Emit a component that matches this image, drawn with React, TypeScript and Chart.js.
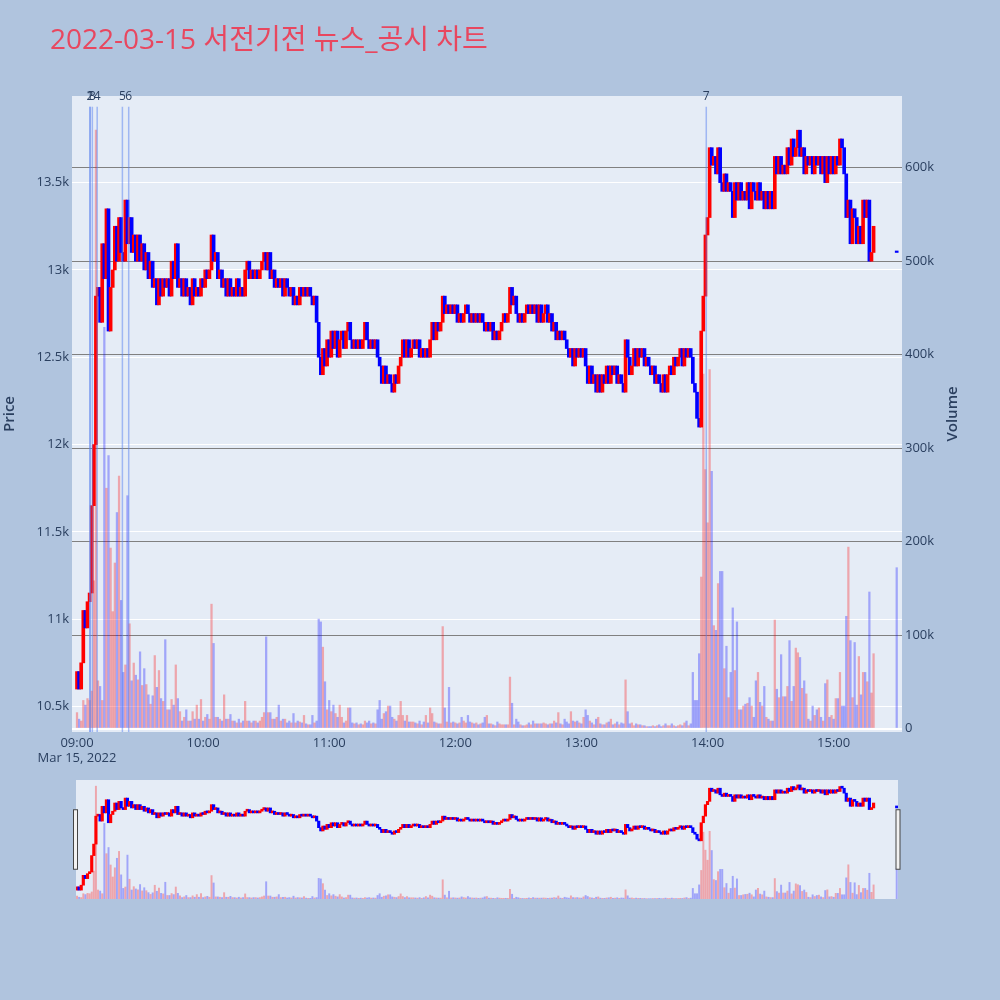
import React, { useEffect, useRef } from "react";
import { Chart, registerables } from "chart.js";

Chart.register(...registerables);

const TITLE = "2022-03-15 서전기전 뉴스_공시 차트";
const DATE_LABEL = "Mar 15, 2022";

// 1-minute candles from 09:00 (minute 0); each candle opens at the previous close
const firstOpen = 10600;
const closes = [
  10700, 10600, 10750, 11050, 10950, 11100, 11150, 11650, 12000, 12850,
  12900, 12700, 13150, 12950, 13350, 12650, 12900, 13000, 13250, 13050,
  13300, 13100, 13050, 13400, 13150, 13300, 13100, 13200, 13050, 13200,
  13050, 13150, 13000, 13100, 12950, 13050, 12900, 12950, 12800, 12950,
  12850, 12950, 12900, 12950, 12850, 13050, 12950, 13150, 12900, 12950,
  12850, 12950, 12850, 12900, 12800, 12950, 12850, 12900, 12850, 12950,
  12900, 13000, 12950, 13000, 13200, 13050, 13100, 12950, 13000, 12900,
  12950, 12850, 12950, 12850, 12900, 12850, 12950, 12850, 12900, 12850,
  13000, 13050, 12950, 13000, 12950, 13000, 12950, 13000, 13050, 13100,
  13000, 13100, 12950, 13000, 12900, 12950, 12900, 12950, 12850, 12950,
  12900, 12850, 12900, 12800, 12850, 12800, 12900, 12850, 12900, 12850,
  12900, 12850, 12800, 12850, 12700, 12500, 12400, 12550, 12450, 12600,
  12500, 12650, 12550, 12650, 12500, 12600, 12650, 12550, 12650, 12700,
  12600, 12550, 12600, 12550, 12600, 12550, 12600, 12700, 12600, 12550,
  12600, 12550, 12600, 12500, 12450, 12350, 12450, 12350, 12400, 12350,
  12300, 12400, 12350, 12450, 12500, 12600, 12500, 12600, 12500, 12550,
  12600, 12550, 12600, 12500, 12550, 12500, 12550, 12500, 12600, 12700,
  12600, 12700, 12650, 12700, 12850, 12750, 12800, 12750, 12800, 12750,
  12800, 12700, 12750, 12700, 12750, 12800, 12750, 12700, 12750, 12700,
  12750, 12700, 12750, 12700, 12650, 12700, 12650, 12700, 12600, 12650,
  12600, 12650, 12700, 12750, 12700, 12750, 12900, 12800, 12850, 12750,
  12700, 12750, 12700, 12750, 12800, 12750, 12800, 12750, 12800, 12700,
  12800, 12700, 12750, 12800, 12700, 12750, 12650, 12700, 12600, 12650,
  12600, 12650, 12600, 12550, 12500, 12550, 12450, 12550, 12500, 12550,
  12500, 12550, 12450, 12350, 12450, 12350, 12400, 12300, 12400, 12300,
  12400, 12350, 12450, 12350, 12450, 12400, 12450, 12350, 12400, 12350,
  12300, 12600, 12500, 12400, 12450, 12550, 12450, 12550, 12500, 12550,
  12450, 12500, 12450, 12400, 12450, 12350, 12400, 12350, 12300, 12400,
  12300, 12400, 12450, 12400, 12500, 12450, 12500, 12550, 12450, 12550,
  12500, 12550, 12500, 12350, 12300, 12150, 12100, 12650, 12850, 13200,
  13300, 13700, 13600, 13650, 13550, 13700, 13500, 13450, 13550, 13450,
  13500, 13450, 13300, 13500, 13400, 13500, 13400, 13450, 13400, 13500,
  13350, 13500, 13450, 13400, 13500, 13400, 13450, 13350, 13450, 13350,
  13450, 13350, 13650, 13550, 13650, 13550, 13600, 13550, 13700, 13600,
  13750, 13650, 13700, 13800, 13650, 13700, 13550, 13650, 13600, 13650,
  13550, 13650, 13600, 13650, 13550, 13650, 13500, 13650, 13550, 13650,
  13550, 13650, 13600, 13750, 13700, 13550, 13300, 13400, 13150, 13350,
  13300, 13150, 13250, 13150, 13400, 13300, 13400, 13050, 13100, 13250,
];

// volume per minute, in thousands of shares
const volumesK = [
  17, 10, 8, 30, 25, 32, 30, 40, 158, 640,
  51, 45, 30, 429, 257, 292, 193, 125, 177, 231,
  270, 137, 60, 68, 249, 112, 51, 70, 57, 52,
  82, 46, 64, 47, 36, 26, 35, 78, 44, 62,
  32, 29, 95, 20, 20, 31, 25, 68, 32, 18,
  8, 12, 20, 8, 8, 18, 10, 25, 10, 31,
  8, 12, 15, 10, 133, 91, 12, 12, 10, 8,
  36, 10, 10, 15, 8, 8, 6, 10, 6, 8,
  29, 8, 8, 6, 8, 8, 6, 8, 12, 17,
  98, 17, 17, 10, 10, 12, 25, 8, 10, 10,
  6, 8, 6, 16, 6, 8, 7, 6, 14, 5,
  4, 4, 14, 6, 8, 117, 114, 87, 50, 20,
  30, 18, 25, 16, 12, 25, 12, 6, 8, 22,
  22, 6, 5, 6, 4, 5, 4, 8, 6, 8,
  5, 6, 5, 20, 30, 10, 16, 18, 24, 24,
  12, 10, 8, 14, 29, 14, 8, 14, 7, 7,
  7, 6, 5, 8, 4, 7, 14, 6, 22, 16,
  7, 6, 5, 5, 109, 22, 7, 44, 6, 7,
  6, 5, 6, 12, 8, 6, 14, 7, 6, 5,
  6, 4, 5, 6, 12, 14, 5, 5, 4, 3,
  7, 5, 4, 4, 4, 4, 55, 27, 4, 10,
  7, 4, 3, 3, 4, 6, 4, 8, 5, 5,
  5, 5, 6, 5, 4, 5, 5, 8, 6, 17,
  5, 4, 10, 7, 5, 18, 8, 7, 8, 6,
  5, 12, 20, 14, 8, 6, 4, 10, 12, 5,
  4, 4, 6, 7, 10, 4, 5, 7, 4, 6,
  5, 52, 18, 5, 6, 3, 5, 4, 4, 3,
  3, 2, 2, 2, 3, 2, 3, 4, 2, 3,
  5, 3, 3, 5, 3, 2, 3, 4, 3, 6,
  8, 3, 5, 60, 30, 30, 80, 162, 379, 277,
  220, 384, 275, 110, 105, 155, 168, 168, 64, 88,
  33, 60, 129, 62, 114, 20, 20, 24, 26, 27,
  33, 24, 12, 51, 60, 28, 24, 45, 12, 10,
  8, 8, 116, 42, 33, 79, 34, 34, 45, 94,
  29, 45, 86, 81, 76, 43, 51, 37, 10, 8,
  24, 14, 20, 22, 12, 8, 48, 52, 12, 14,
  10, 32, 32, 60, 24, 24, 120, 194, 94, 33,
  92, 25, 77, 36, 60, 60, 50, 146, 38, 80,
];

// 15:30 closing auction
const auctionMinute = 390;
const auctionPrice = 13100;
const auctionVolumeK = 172;

// news / disclosure markers
const newsMinutes = [6.2, 6.2, 7.3, 9.6, 21.6, 24.6, 299.4];
const newsLabels = ["1", "2", "3", "4", "5", "6", "7"];

const hourTicks = [0, 60, 120, 180, 240, 300, 360];
const priceTicks = [10500, 11000, 11500, 12000, 12500, 13000, 13500];
const volumeTicksK = [0, 100, 200, 300, 400, 500, 600];

const UP = "#FF0000";
const DOWN = "#0000FF";
const UP_VOL = "rgba(255,0,0,0.3)";
const DOWN_VOL = "rgba(0,0,255,0.3)";
const PLOT_BG = "#E5ECF6";
const FONT = '"Open Sans", "Noto Sans CJK KR", sans-serif';
const TEXT = "#2a3f5f";

const opens = closes.map((c, i) => (i === 0 ? firstOpen : closes[i - 1]));
const candleData = closes
  .map((c, i) => ({ x: i, y: [opens[i], c] }))
  .concat([{ x: auctionMinute, y: [auctionPrice, auctionPrice] }]);
const candleColors = closes
  .map((c, i) => (c >= opens[i] ? UP : DOWN))
  .concat([DOWN]);
const volumeData = volumesK
  .map((v, i) => ({ x: i, y: v }))
  .concat([{ x: auctionMinute, y: auctionVolumeK }]);
const volumeColors = closes
  .map((c, i) => (c >= opens[i] ? UP_VOL : DOWN_VOL))
  .concat([DOWN_VOL]);

function fmtMinute(m: number) {
  const h = 9 + Math.floor(m / 60);
  const mm = m % 60;
  return `${String(h).padStart(2, "0")}:${String(mm).padStart(2, "0")}`;
}

const plotBgPlugin = {
  id: "plotBg",
  beforeDraw(chart: any) {
    const { ctx, chartArea: a } = chart;
    ctx.save();
    ctx.fillStyle = PLOT_BG;
    ctx.fillRect(a.left, a.top, a.right - a.left, a.bottom - a.top);
    ctx.restore();
  },
};

const overlayPlugin = {
  id: "overlay",
  afterDatasetsDraw(chart: any) {
    const { ctx, chartArea: a, scales } = chart;
    const top = a.bottom - (a.bottom - a.top) * 0.983;
    ctx.save();
    ctx.strokeStyle = "rgba(90,130,240,0.5)";
    ctx.lineWidth = 1.5;
    newsMinutes.forEach((m) => {
      const px = scales.x.getPixelForValue(m);
      ctx.beginPath();
      ctx.moveTo(px, top);
      ctx.lineTo(px, a.bottom);
      ctx.stroke();
    });
    ctx.fillStyle = TEXT;
    ctx.font = `12px ${FONT}`;
    ctx.textAlign = "center";
    ctx.textBaseline = "middle";
    newsMinutes.forEach((m, i) => {
      ctx.fillText(newsLabels[i], scales.x.getPixelForValue(m), top - 10);
    });
    ctx.restore();
  },
  afterDraw(chart: any) {
    const { ctx, chartArea: a } = chart;
    const mid = (a.top + a.bottom) / 2;
    ctx.save();
    ctx.fillStyle = "#E8475F";
    ctx.font = `28px ${FONT}`;
    ctx.textAlign = "left";
    ctx.textBaseline = "middle";
    ctx.fillText(TITLE, 50, 41);

    ctx.fillStyle = TEXT;
    ctx.font = `600 15px ${FONT}`;
    ctx.textAlign = "center";
    ctx.textBaseline = "middle";
    ctx.translate(10, mid);
    ctx.rotate(-Math.PI / 2);
    ctx.fillText("Price", 0, 0);
    ctx.restore();

    ctx.save();
    ctx.fillStyle = TEXT;
    ctx.font = `600 15px ${FONT}`;
    ctx.textAlign = "center";
    ctx.textBaseline = "middle";
    ctx.translate(953, mid);
    ctx.rotate(-Math.PI / 2);
    ctx.fillText("Volume", 0, 0);
    ctx.restore();
  },
};

const sliderPlugin = {
  id: "sliderDecor",
  afterDraw(chart: any) {
    const { ctx, chartArea: a } = chart;
    const h = (a.bottom - a.top) / 2;
    const y = (a.top + a.bottom) / 2 - h / 2;
    ctx.save();
    ctx.fillStyle = "#f2f2f2";
    ctx.strokeStyle = "#444";
    ctx.lineWidth = 1;
    [a.left - 0.5, a.right].forEach((x) => {
      ctx.fillRect(x - 2, y, 4, h);
      ctx.strokeRect(x - 2, y, 4, h);
    });
    ctx.restore();
  },
};

export default function App() {
  const mainRef = useRef<HTMLCanvasElement>(null);
  const sliderRef = useRef<HTMLCanvasElement>(null);

  useEffect(() => {
    Chart.defaults.font.family = FONT;
    Chart.defaults.color = TEXT;

    const main = new Chart(mainRef.current as HTMLCanvasElement, {
      type: "bar",
      data: {
        datasets: [
          {
            label: "Volume",
            data: volumeData as any,
            yAxisID: "yVol",
            backgroundColor: volumeColors,
            barThickness: 1.6,
            grouped: false,
            borderWidth: 0,
            order: 3,
          } as any,
          {
            label: "Price",
            data: candleData as any,
            yAxisID: "y",
            backgroundColor: candleColors,
            barThickness: 3,
            grouped: false,
            borderWidth: 0,
            minBarLength: 1.5,
            order: 1,
          } as any,
        ],
      },
      options: {
        responsive: false,
        devicePixelRatio: 1,
        animation: false,
        layout: { padding: { left: 0, right: 0, top: 96, bottom: 0 } },
        plugins: { legend: { display: false }, tooltip: { enabled: false }, title: { display: false } },
        scales: {
          x: {
            type: "linear",
            position: "bottom",
            min: -2.38,
            max: 392.52,
            offset: false,
            grid: { display: false, offset: false, drawTicks: false },
            border: { display: false },
            afterBuildTicks: (s: any) => {
              s.ticks = hourTicks.map((v) => ({ value: v }));
            },
            afterFit: (s: any) => {
              s.height = 268;
            },
            ticks: {
              autoSkip: false,
              maxRotation: 0,
              padding: 3,
              color: TEXT,
              font: { size: 13, family: FONT },
              callback: (v: any) => (Number(v) === 0 ? [fmtMinute(0), DATE_LABEL] : fmtMinute(Number(v))),
            },
          },
          y: {
            type: "linear",
            position: "left",
            min: 10354,
            max: 13996,
            grid: { color: "#ffffff", lineWidth: 1, drawTicks: false },
            border: { display: false },
            afterBuildTicks: (s: any) => {
              s.ticks = priceTicks.map((v) => ({ value: v }));
            },
            afterFit: (s: any) => {
              s.width = 72;
            },
            ticks: {
              padding: 3,
              color: TEXT,
              font: { size: 13, family: FONT },
              callback: (v: any) => {
                const n = Number(v) / 1000;
                return Number.isInteger(n) ? `${n}k` : `${n.toFixed(1)}k`;
              },
            },
          },
          yVol: {
            type: "linear",
            position: "right",
            min: -3.74,
            max: 676.5,
            grid: {
              color: (c: any) => (c.tick && c.tick.value === 0 ? "#ffffff" : "#808080"),
              lineWidth: (c: any) => (c.tick && c.tick.value === 0 ? 2 : 1),
              drawTicks: false,
            },
            border: { display: false },
            afterBuildTicks: (s: any) => {
              s.ticks = volumeTicksK.map((v) => ({ value: v }));
            },
            afterFit: (s: any) => {
              s.width = 98;
            },
            ticks: {
              padding: 3,
              color: TEXT,
              font: { size: 13, family: FONT },
              callback: (v: any) => (Number(v) === 0 ? "0" : `${v}k`),
            },
          },
        },
      } as any,
      plugins: [plotBgPlugin, overlayPlugin],
    });

    const slider = new Chart(sliderRef.current as HTMLCanvasElement, {
      type: "bar",
      data: {
        datasets: [
          {
            data: volumeData as any,
            yAxisID: "yVol",
            backgroundColor: volumeColors,
            barThickness: 1.3,
            grouped: false,
            borderWidth: 0,
            order: 3,
          } as any,
          {
            data: candleData as any,
            yAxisID: "y",
            backgroundColor: candleColors,
            barThickness: 2.5,
            grouped: false,
            borderWidth: 0,
            minBarLength: 2,
            order: 1,
          } as any,
        ],
      },
      options: {
        responsive: false,
        devicePixelRatio: 1,
        animation: false,
        layout: { padding: { left: 76, right: 102, top: 10, bottom: 11 } },
        plugins: { legend: { display: false }, tooltip: { enabled: false } },
        scales: {
          x: { type: "linear", display: false, min: -0.48, max: 390.62, offset: false, grid: { offset: false } },
          y: { type: "linear", display: false, min: 10330, max: 13950 },
          yVol: { type: "linear", display: false, min: 0, max: 675 },
        },
      } as any,
      plugins: [plotBgPlugin, sliderPlugin],
    });

    return () => {
      main.destroy();
      slider.destroy();
    };
  }, []);

  return (
    <div
      style={{
        position: "absolute",
        left: 0,
        top: 0,
        width: 1000,
        height: 1000,
        background: "#B0C4DE",
        overflow: "hidden",
      }}
    >
      <canvas
        ref={mainRef}
        width={1000}
        height={1000}
        style={{ position: "absolute", left: 0, top: 0, width: 1000, height: 1000 }}
      />
      <canvas
        ref={sliderRef}
        width={1000}
        height={140}
        style={{ position: "absolute", left: 0, top: 770, width: 1000, height: 140 }}
      />
    </div>
  );
}
